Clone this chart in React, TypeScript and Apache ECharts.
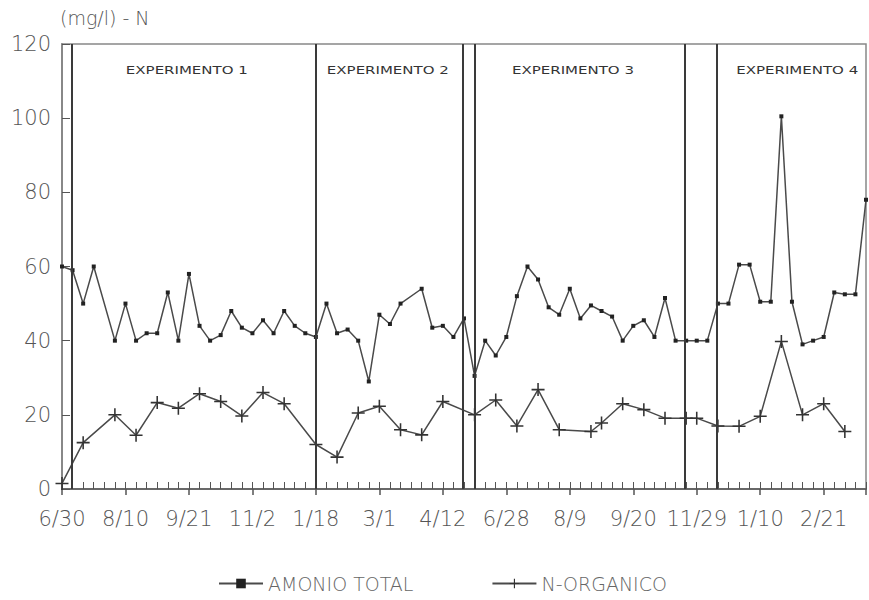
import React, { useEffect, useRef } from "react";
import * as echarts from "echarts";

// Sample dates shown every sixth sample along the x axis
const tickLabels = ["6/30", "8/10", "9/21", "11/2", "1/18", "3/1", "4/12", "6/28", "8/9", "9/20", "11/29", "1/10", "2/21"];
const samplesPerLabel = 6;

// Total ammonium (mg/l N), one value per sample; null = not sampled
const amonioTotal: (number | null)[] = [
  60, 59, 50, 60, null, 40, 50, 40, 42, 42,
  53, 40, 58, 44, 40, 41.5, 48, 43.5, 42, 45.5,
  42, 48, 44, 42, 41, 50, 42, 43, 40, 29,
  47, 44.5, 50, null, 54, 43.5, 44, 41, 46, 30.5,
  40, 36, 41, 52, 60, 56.5, 49, 47, 54, 46,
  49.5, 48, 46.5, 40, 44, 45.5, 41, 51.5, 40, 40,
  40, 40, 50, 50, 60.5, 60.5, 50.5, 50.5, 100.5, 50.5,
  39, 40, 41, 53, 52.5, 52.5, 78,
];

// Organic nitrogen (mg/l N), measured on fewer samples
const nOrganico: (number | null)[] = [
  1.5, null, 12.5, null, null, 20, null, 14.5, null, 23.3,
  null, 21.8, null, 25.7, null, 23.6, null, 19.7, null, 26,
  null, 23, null, null, 12, null, 8.6, null, 20.5, null,
  22.3, null, 16, null, 14.6, null, 23.6, null, null, 20,
  null, 24, null, 17, null, 26.8, null, 16, null, null,
  15.5, 17.8, null, 23, null, 21.4, null, 19.1, null, 19.1,
  19.1, null, 17, null, 16.9, null, 19.6, null, 39.8, null,
  20, null, 23, null, 15.5, null, null,
];

// Experiment boundaries and title positions, in sample units
const experimentBounds = [0.9, 24, 37.9, 39, 58.9, 61.9];
const experimentNames = ["EXPERIMENTO 1", "EXPERIMENTO 2", "EXPERIMENTO 3", "EXPERIMENTO 4"];
const experimentCenters = [11.8, 30.8, 48.3, 69.5];

const plusSymbol = "path://M4.4,0h1.2v4.4h4.4v1.2h-4.4v4.4h-1.2v-4.4h-4.4v-1.2h4.4z";

export default function App() {
  const ref = useRef<HTMLDivElement>(null);

  useEffect(() => {
    const chart = echarts.init(ref.current!, null, { renderer: "svg" });
    const family = "DejaVu Sans";
    const lastIndex = amonioTotal.length - 1;
    const ink = "#555";

    chart.setOption({
      animation: false,
      backgroundColor: "#fff",
      textStyle: { fontFamily: family },
      grid: {
        left: 62,
        right: 3,
        top: 44,
        bottom: 111,
        show: true,
        borderColor: "#888",
        borderWidth: 1.5,
      },
      legend: {
        top: 569,
        left: 213,
        itemWidth: 44,
        itemHeight: 12,
        itemGap: 78,
        textStyle: { fontSize: 19, color: "#666", fontFamily: family, fontWeight: 200 },
        data: ["AMONIO TOTAL", "N-ORGANICO"],
      },
      xAxis: [
        {
          type: "value",
          min: 0,
          max: lastIndex,
          interval: 1,
          axisLine: { lineStyle: { color: ink, width: 1.5 } },
          axisTick: { inside: true, length: 7, lineStyle: { color: ink, width: 1 } },
          splitLine: { show: false },
          axisLabel: {
            fontSize: 21,
            color: ink,
            fontWeight: 200,
            margin: 19,
            formatter: (v: number) => {
              const i = Math.round(v);
              return i % samplesPerLabel === 0 ? tickLabels[i / samplesPerLabel] ?? "" : "";
            },
          },
        },
        {
          type: "value",
          min: 0,
          max: lastIndex,
          interval: samplesPerLabel,
          position: "bottom",
          axisLine: { show: false },
          axisTick: { inside: false, length: 6, lineStyle: { color: ink, width: 1.5 } },
          axisLabel: { show: false },
          splitLine: { show: false },
        },
      ],
      yAxis: {
        type: "value",
        min: 0,
        max: 120,
        interval: 20,
        axisLine: { show: true, lineStyle: { color: "#888", width: 2 } },
        axisTick: { show: true, inside: true, length: 8, lineStyle: { color: ink } },
        splitLine: { show: false },
        axisLabel: { fontSize: 21, color: ink, fontWeight: 200, margin: 11 },
      },
      series: [
        {
          name: "AMONIO TOTAL",
          type: "line",
          data: amonioTotal.map((v, i) => [i, v]),
          connectNulls: true,
          symbol: "rect",
          symbolSize: 4,
          lineStyle: { color: "#4a4a4a", width: 1.5 },
          itemStyle: { color: "#222" },
          markLine: {
            silent: true,
            symbol: ["none", "none"],
            label: { show: false },
            lineStyle: { color: "#3a3a3a", width: 2, type: "solid" },
            data: experimentBounds.map((x) => ({ xAxis: x })),
          },
          z: 3,
        },
        {
          name: "N-ORGANICO",
          type: "line",
          data: nOrganico.map((v, i) => [i, v]).filter((d) => d[1] !== null),
          symbol: plusSymbol,
          symbolSize: 13,
          lineStyle: { color: "#4a4a4a", width: 1.5 },
          itemStyle: { color: "#333" },
          z: 3,
        },
      ],
    });

    const titles = experimentNames.map((name, k) => {
      const x = chart.convertToPixel({ xAxisIndex: 0 }, experimentCenters[k]) as number;
      return {
        type: "text",
        x,
        y: 70,
        scaleX: 1.5,
        style: {
          text: name,
          font: `10px "${family}"`,
          fill: "#333",
          textAlign: "center",
          textVerticalAlign: "middle",
        },
      };
    });

    chart.setOption({
      graphic: [
        {
          type: "text",
          left: 60,
          top: 8,
          style: { text: "(mg/l) - N", font: `200 19px "${family}"`, fill: ink },
        },
        ...titles,
      ],
    });

    return () => chart.dispose();
  }, []);

  return <div ref={ref} style={{ position: "fixed", left: 0, top: 0, width: 869, height: 600 }} />;
}
